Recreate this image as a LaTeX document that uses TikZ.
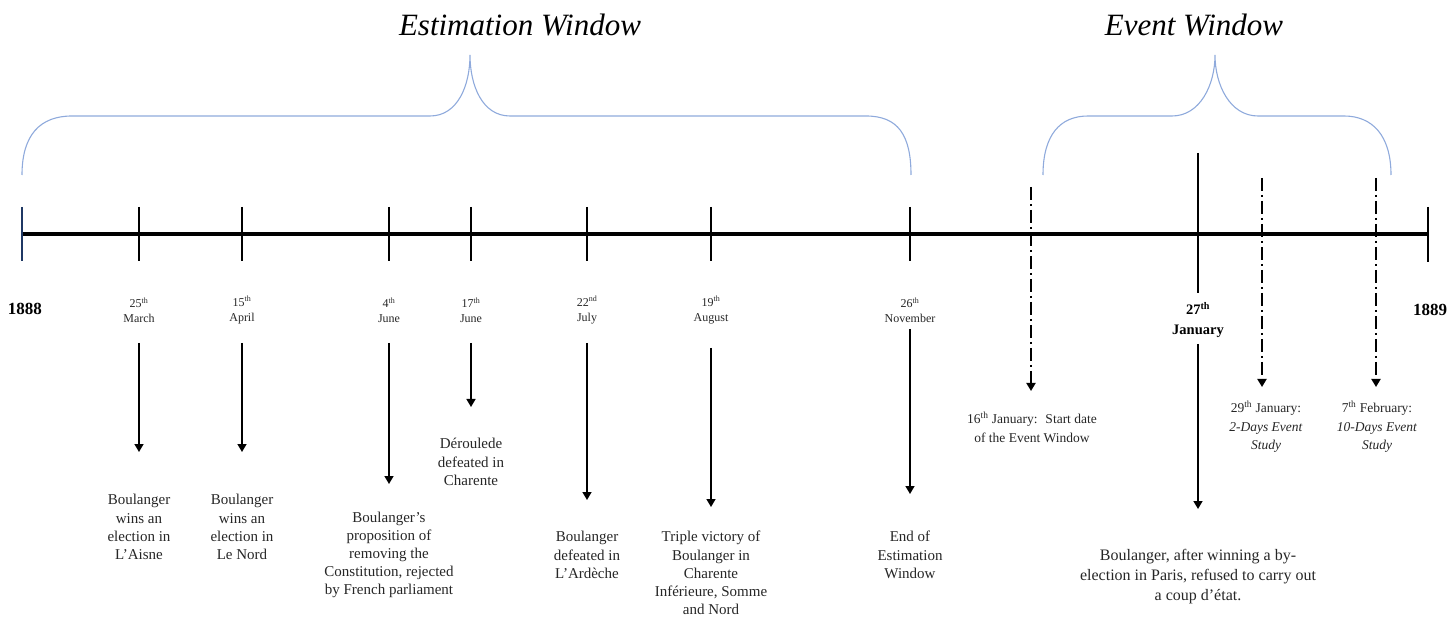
\documentclass[tikz,border=0pt]{standalone}
\usepackage{fontspec}
\setmainfont{Liberation Serif}
\usetikzlibrary{arrows.meta}
\definecolor{braceblue}{HTML}{8FAADC}
\definecolor{startblue}{HTML}{1F3864}
\definecolor{txt}{HTML}{262626}
\begin{document}
\begin{tikzpicture}[x=1pt,y=-1pt,
  tl/.style={line width=3.4pt},
  tickline/.style={line width=1.5pt},
  arr/.style={line width=1.5pt,-{Triangle[width=9pt,length=8pt]}},
  dd/.style={line width=1.9pt,dash pattern=on 13pt off 4pt on 2pt off 4pt},
  ddarr/.style={dd,-{Triangle[width=9pt,length=8pt]}},
  brace/.style={draw=braceblue,line width=1.1pt},
  datelbl/.style={align=center,text=txt,font=\fontsize{12}{15}\selectfont,inner sep=0pt},
  evt/.style={align=center,text=txt,font=\fontsize{15}{18.2}\selectfont,inner sep=0pt},
  evs/.style={align=center,text=txt,font=\fontsize{13.5}{18.5}\selectfont,inner sep=0pt},
  year/.style={font=\fontsize{17}{17}\selectfont\bfseries,inner sep=0pt},
  title/.style={font=\fontsize{31}{31}\selectfont\itshape,inner sep=0pt}
]
\useasboundingbox (0,0) rectangle (1454,617);

% titles
\node[title] (tEst) at (520,25) {Estimation Window};
\node[title] (tEvt) at (1194,25) {Event Window};

% braces
\draw[brace] (22,175) .. controls (22,135) and (40,116) .. (72,116) -- (430,116)
  .. controls (458,116) and (470,85) .. (470,55)
  .. controls (470,85) and (482,116) .. (510,116) -- (866,116)
  .. controls (898,116) and (911,135) .. (911,175);
\draw[brace] (1043,175) .. controls (1043,135) and (1060,116) .. (1088,116) -- (1172,116)
  .. controls (1200,116) and (1215,85) .. (1215,55)
  .. controls (1215,85) and (1230,116) .. (1258,116) -- (1344,116)
  .. controls (1372,116) and (1391,135) .. (1391,175);

% timeline
\coordinate (t0) at (22,234);
\coordinate (t1) at (1428,234);
\draw[tl] (t0) -- (t1);
\draw[tickline,draw=startblue] (22,207) -- (22,261);
\draw[tickline] (1428,207) -- (1428,262);
\foreach \x in {139,242,389,471,587,711,910}
  \draw[tickline] (\x,207) -- (\x,261);

% years
\node[year] (y1888) at (25,309) {1888};
\node[year] (y1889) at (1430,310) {1889};

% date labels
\node[datelbl] (d1) at (139,310) {25\textsuperscript{th}\\March};
\node[datelbl] (d2) at (242,310) {15\textsuperscript{th}\\April};
\node[datelbl] (d3) at (389,310) {4\textsuperscript{th}\\June};
\node[datelbl] (d4) at (471,310) {17\textsuperscript{th}\\June};
\node[datelbl] (d5) at (587,310) {22\textsuperscript{nd}\\July};
\node[datelbl] (d6) at (711,310) {19\textsuperscript{th}\\August};
\node[datelbl] (d7) at (910,310) {26\textsuperscript{th}\\November};
\node[align=center,inner sep=0pt,font=\fontsize{14.5}{20}\selectfont\bfseries] (d9) at (1198,320) {27\textsuperscript{th}\\January};

% event texts
\node[evt] (e1) at (139,527) {Boulanger\\wins an\\election in\\L’Aisne};
\node[evt] (e2) at (242,527) {Boulanger\\wins an\\election in\\Le Nord};
\node[evt] (e3) at (389,555) {Boulanger’s\\proposition of\\removing the\\Constitution, rejected\\by French parliament};
\node[evt] (e4) at (471,462) {Déroulede\\defeated in\\Charente};
\node[evt] (e5) at (587,555) {Boulanger\\defeated in\\L’Ardèche};
\node[evt] (e6) at (711,573) {Triple victory of\\Boulanger in\\Charente\\Inférieure, Somme\\and Nord};
\node[evt] (e7) at (910,555) {End of\\Estimation\\Window};
\node[evs] (e8) at (1032,427) {16\textsuperscript{th} January:~ Start date\\of the Event Window};
\node[align=center,text=txt,inner sep=0pt,font=\fontsize{16}{20}\selectfont] (e9) at (1198,577) {Boulanger, after winning a by-\\election in Paris, refused to carry out\\a coup d’état.};
\node[evs] (e10) at (1266,427) {29\textsuperscript{th} January:\\\textit{2-Days Event}\\\textit{Study}};
\node[evs] (e11) at (1377,427) {7\textsuperscript{th} February:\\\textit{10-Days Event}\\\textit{Study}};

% arrows
\coordinate (a1s) at (139,343); \coordinate (a1e) at (139,452);
\coordinate (a2s) at (242,343); \coordinate (a2e) at (242,452);
\coordinate (a3s) at (389,343); \coordinate (a3e) at (389,484);
\coordinate (a4s) at (471,343); \coordinate (a4e) at (471,407);
\coordinate (a5s) at (587,343); \coordinate (a5e) at (587,500);
\coordinate (a6s) at (711,348); \coordinate (a6e) at (711,507);
\coordinate (a7s) at (910,329); \coordinate (a7e) at (910,494);
\coordinate (a9s) at (1198,344); \coordinate (a9e) at (1198,509);
\draw[arr] (a1s) -- (a1e);
\draw[arr] (a2s) -- (a2e);
\draw[arr] (a3s) -- (a3e);
\draw[arr] (a4s) -- (a4e);
\draw[arr] (a5s) -- (a5e);
\draw[arr] (a6s) -- (a6e);
\draw[arr] (a7s) -- (a7e);
\draw[arr] (a9s) -- (a9e);

% 27 January line
\coordinate (j27t) at (1198,153); \coordinate (j27b) at (1198,293);
\draw[tickline] (j27t) -- (j27b);

% dash-dot arrows
\coordinate (b8s) at (1031,187); \coordinate (b8e) at (1031,391);
\coordinate (b10s) at (1262,178); \coordinate (b10e) at (1262,387);
\coordinate (b11s) at (1376,178); \coordinate (b11e) at (1376,387);
\draw[ddarr] (b8s) -- (b8e);
\draw[ddarr] (b10s) -- (b10e);
\draw[ddarr] (b11s) -- (b11e);
\end{tikzpicture}
\end{document}
